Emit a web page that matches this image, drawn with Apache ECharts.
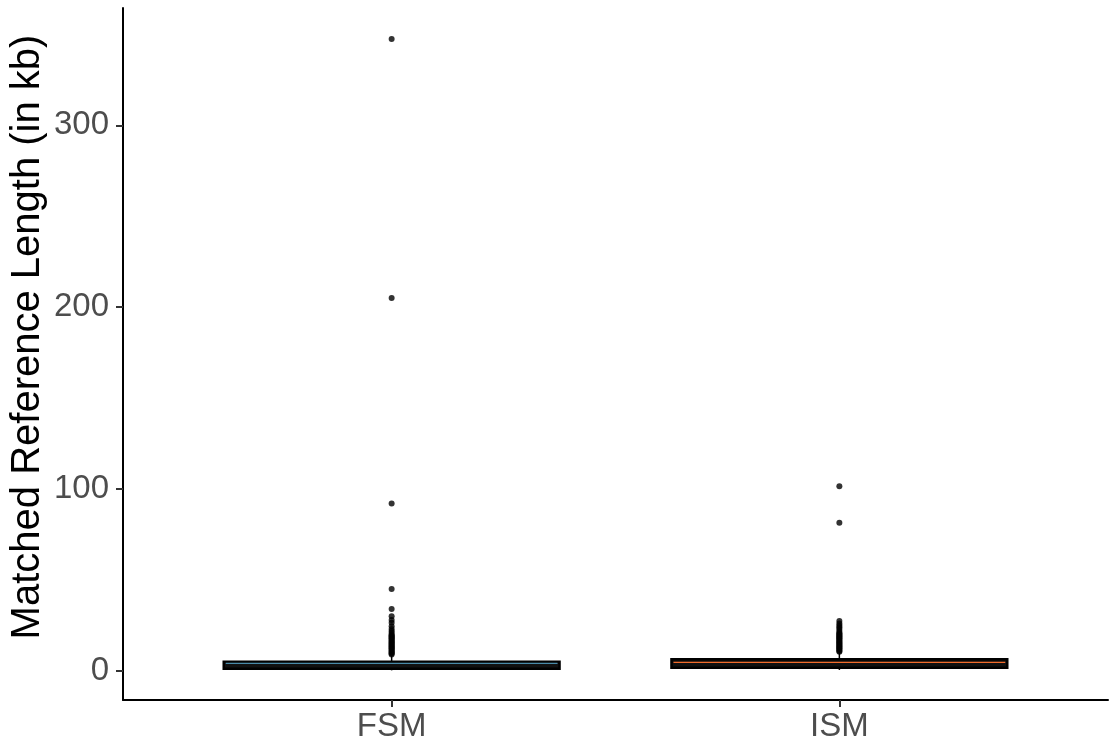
<!DOCTYPE html>
<html>
<head>
<meta charset="utf-8">
<title>Matched Reference Length</title>
<script src="https://cdn.jsdelivr.net/npm/echarts@6/dist/echarts.min.js"></script>
<style>
body{margin:0;background:#fff;}
#chart{width:1114px;height:746px;}
</style>
</head>
<body>
<div id="chart"></div>
<script>

const categories = ["FSM", "ISM"]

// [lower whisker, q1, median, q3, upper whisker]
const boxStats = [
  [0.3, 1.2, 4.1, 5.0, 8.3],
  [0.5, 1.8, 4.7, 6.4, 10.0]
]

const medianColors = ["#4a8aa8", "#f26b2b"]

const fsmOutliers = [9, 9.5, 10, 10.5, 11, 11.5, 12, 12.5, 13, 13.5, 14, 14.5, 15, 15.5, 16, 16.5, 17, 17.5, 18, 18.5, 19, 19.5, 20, 21, 22, 23, 24.5, 26.5, 28, 30, 34, 45, 92, 205, 347.5]

const ismOutliers = [10.5, 11, 11.5, 12, 12.5, 13, 13.5, 14, 14.5, 15, 15.5, 16, 16.5, 17, 17.5, 18, 18.5, 19, 19.5, 20, 20.5, 21, 22, 23, 24, 25, 26, 27.5, 81.5, 101.5]

const yTicks = [0, 100, 200, 300]

const outlierPoints = []
fsmOutliers.forEach(v => outlierPoints.push([1, v]))
ismOutliers.forEach(v => outlierPoints.push([2, v]))

const boxData = boxStats.map((s, i) => [i + 1].concat(s))

const chart = echarts.init(document.getElementById("chart"))

chart.setOption({
  animation: false,
  grid: {left: 123, right: 6, top: 8, bottom: 46, containLabel: false, outerBoundsMode: "none"},
  xAxis: {
    type: "value",
    min: 0.4,
    max: 2.6,
    splitLine: {show: false},
    axisLine: {onZero: false, lineStyle: {color: "#000", width: 2}},
    axisTick: {show: true, length: 7, customValues: [1, 2], lineStyle: {color: "#333", width: 2}},
    axisLabel: {
      customValues: [1, 2],
      formatter: v => categories[Math.round(v) - 1],
      color: "#4d4d4d",
      fontSize: 33,
      fontFamily: "Liberation Sans, Arial",
      margin: 10
    }
  },
  yAxis: {
    type: "value",
    min: -16,
    max: 364.5,
    name: "Matched Reference Length (in kb)",
    nameLocation: "middle",
    nameRotate: 90,
    nameGap: 75,
    nameMoveOverlap: false,
    nameTextStyle: {color: "#000", fontSize: 40, fontFamily: "Liberation Sans, Arial", padding: [0, 0, 0, 34]},
    splitLine: {show: false},
    axisLine: {show: true, onZero: false, lineStyle: {color: "#000", width: 2}},
    axisTick: {show: true, length: 7, customValues: yTicks, lineStyle: {color: "#333", width: 2}},
    axisLabel: {
      customValues: yTicks,
      color: "#4d4d4d",
      fontSize: 33,
      fontFamily: "Liberation Sans, Arial",
      margin: 14
    }
  },
  series: [
    {
      type: "custom",
      data: boxData,
      encode: {x: 0, y: [1, 2, 3, 4, 5]},
      renderItem: function(params, api){
        const x = api.value(0)
        const lo = api.coord([x, api.value(1)])
        const q1 = api.coord([x, api.value(2)])
        const med = api.coord([x, api.value(3)])
        const q3 = api.coord([x, api.value(4)])
        const hi = api.coord([x, api.value(5)])
        const w = api.size([0.75, 0])[0]
        const color = medianColors[params.dataIndex]
        return {
          type: "group",
          children: [
            {type: "line", shape: {x1: lo[0], y1: lo[1], x2: q1[0], y2: q1[1]}, style: {stroke: "#000", lineWidth: 1.5}},
            {type: "line", shape: {x1: q3[0], y1: q3[1], x2: hi[0], y2: hi[1]}, style: {stroke: "#000", lineWidth: 1.5}},
            {type: "rect", shape: {x: q1[0] - w / 2, y: q3[1], width: w, height: q1[1] - q3[1]}, style: {fill: "#111", stroke: "#000", lineWidth: 2.5}},
            {type: "line", shape: {x1: med[0] - w / 2 + 2, y1: med[1], x2: med[0] + w / 2 - 2, y2: med[1]}, style: {stroke: color, lineWidth: 1.3}}
          ]
        }
      },
      z: 2
    },
    {
      type: "scatter",
      data: outlierPoints,
      symbolSize: 6,
      itemStyle: {color: "#000"},
      z: 3
    }
  ]
})

</script>
</body>
</html>
